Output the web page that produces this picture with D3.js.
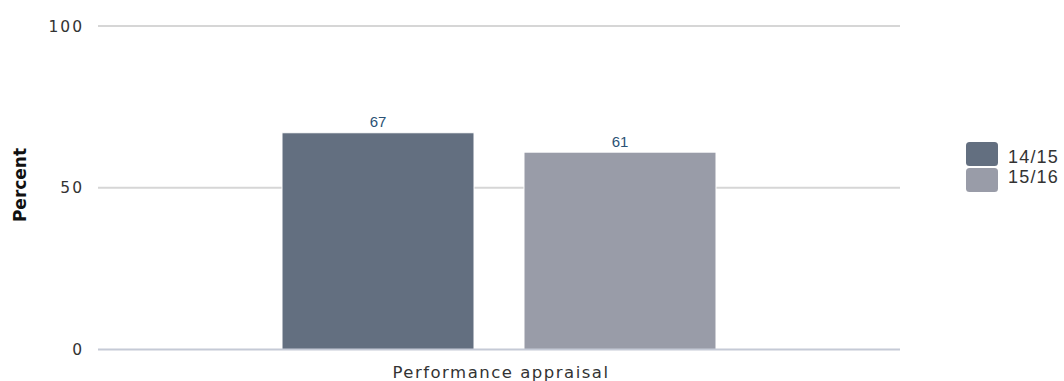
<!DOCTYPE html>
<html>
<head>
<meta charset="utf-8">
<script src="https://cdn.jsdelivr.net/npm/d3@7"></script>
<style>
  html, body { margin: 0; padding: 0; background: #fff; }
  svg { display: block; }
</style>
</head>
<body>
<svg id="chart" width="1064" height="381"></svg>
<script>
// Chart data
const categories = ["Performance appraisal"];
const seriesNames = ["14/15", "15/16"];
const seriesValues = [[67], [61]];
const yTicks = [0, 50, 100];
const seriesColors = ["#636f80", "#999ca8"];

const svg = d3.select("#chart");
const plotLeft = 98, plotRight = 900, plotTop = 26, plotBottom = 349.5;

const y = d3.scaleLinear().domain([0, 100]).range([plotBottom, plotTop]);
const x0 = d3.scaleBand().domain(categories).range([plotLeft, plotRight]).paddingInner(0).paddingOuter(0.424);
const x1 = d3.scaleBand().domain(seriesNames).range([0, x0.bandwidth()]).paddingInner(0.2066).paddingOuter(0);

// Grid lines
svg.append("g").selectAll("line")
  .data(yTicks.filter(t => t !== 0))
  .join("line")
  .attr("x1", plotLeft).attr("x2", plotRight)
  .attr("y1", d => y(d)).attr("y2", d => y(d))
  .attr("stroke", "#d6d6d6").attr("stroke-width", 2);

// Y tick labels
svg.append("g").selectAll("text")
  .data(yTicks)
  .join("text")
  .attr("x", 84).attr("y", d => y(d))
  .attr("dy", "0.36em")
  .attr("text-anchor", "end")
  .attr("font-family", "DejaVu Sans, sans-serif")
  .attr("font-size", 15.5)
  .attr("letter-spacing", 2)
  .attr("fill", "#333")
  .text(d => d);

// Bars
const groups = svg.append("g").selectAll("g")
  .data(categories)
  .join("g")
  .attr("transform", d => `translate(${x0(d)},0)`);

groups.selectAll("rect")
  .data((d, ci) => seriesNames.map((s, si) => ({ s, v: seriesValues[si][ci], si })))
  .join("rect")
  .attr("x", d => x1(d.s))
  .attr("y", d => y(d.v))
  .attr("width", x1.bandwidth())
  .attr("height", d => y(0) - y(d.v))
  .attr("fill", d => seriesColors[d.si])
  .attr("stroke", "#fff").attr("stroke-width", 1);

// Value labels
groups.selectAll("text.val")
  .data((d, ci) => seriesNames.map((s, si) => ({ s, v: seriesValues[si][ci] })))
  .join("text")
  .attr("class", "val")
  .attr("x", d => x1(d.s) + x1.bandwidth() / 2)
  .attr("y", d => y(d.v) - 5.5)
  .attr("text-anchor", "middle")
  .attr("font-family", "Liberation Sans, Arial, sans-serif")
  .attr("font-size", 15)
  .attr("fill", "#2a5275")
  .text(d => d.v);

// Baseline
svg.append("line")
  .attr("x1", plotLeft).attr("x2", plotRight)
  .attr("y1", plotBottom).attr("y2", plotBottom)
  .attr("stroke", "#c5cad6").attr("stroke-width", 2);

// Category label
svg.append("g").selectAll("text")
  .data(categories)
  .join("text")
  .attr("x", d => x0(d) + x0.bandwidth() / 2 + 2)
  .attr("y", 377.5)
  .attr("text-anchor", "middle")
  .attr("font-family", "DejaVu Sans, sans-serif")
  .attr("font-size", 16.5)
  .attr("letter-spacing", 1.5)
  .attr("fill", "#333")
  .text(d => d);

// Y axis title
svg.append("text")
  .attr("transform", "translate(25.5,185) rotate(-90)")
  .attr("text-anchor", "middle")
  .attr("font-family", "DejaVu Sans, sans-serif")
  .attr("font-weight", "bold")
  .attr("font-size", 17)
  .attr("fill", "#111")
  .text("Percent");

// Legend swatches
const legend = svg.append("g").attr("transform", "translate(966,142)");
legend.selectAll("rect")
  .data(seriesNames)
  .join("rect")
  .attr("y", (d, i) => i * 26)
  .attr("width", 32).attr("height", 24)
  .attr("rx", 3.5).attr("ry", 3.5)
  .attr("fill", (d, i) => seriesColors[i]);

// Legend labels
legend.selectAll("text")
  .data(seriesNames)
  .join("text")
  .attr("x", 42)
  .attr("y", (d, i) => 21.3 + i * 19.8)
  .attr("font-family", "Liberation Sans, Arial, sans-serif")
  .attr("font-size", 18)
  .attr("letter-spacing", 1.2)
  .attr("fill", "#333")
  .text(d => d);
</script>
</body>
</html>
